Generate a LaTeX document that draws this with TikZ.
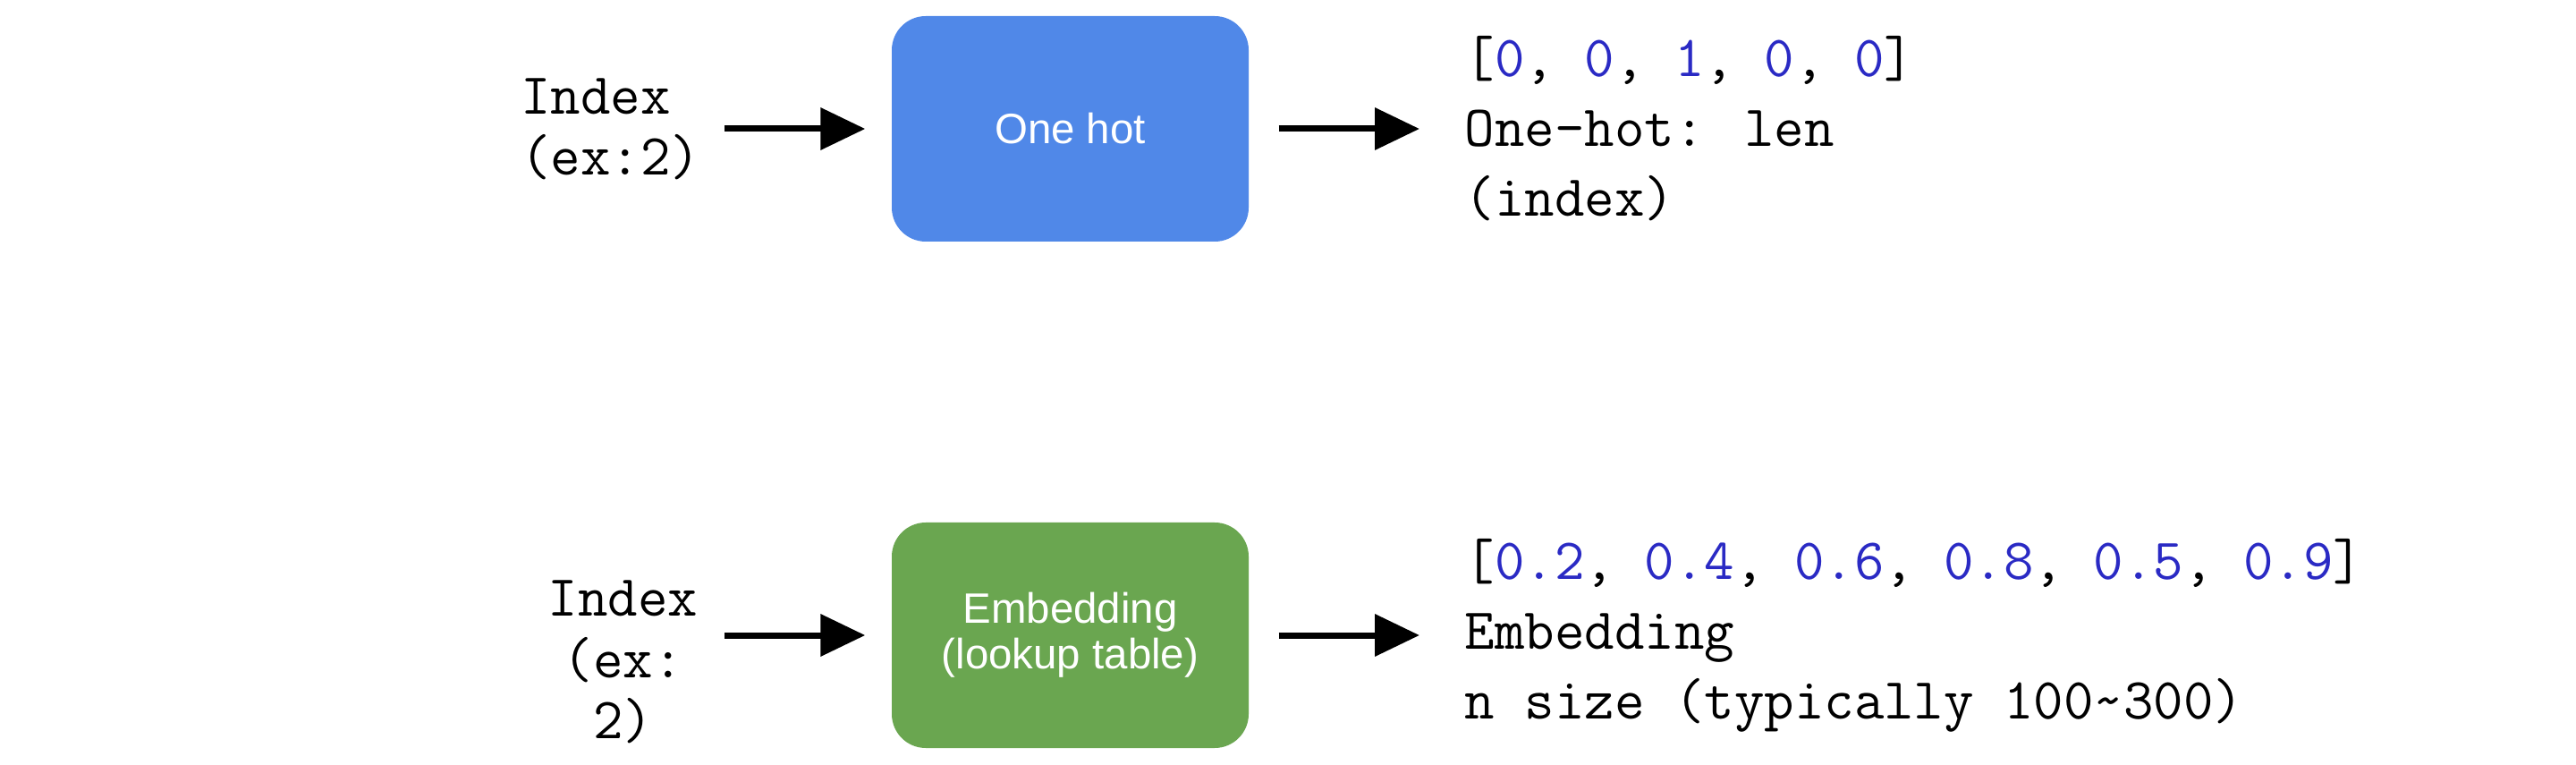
\documentclass[tikz,border=0pt]{standalone}
\usepackage{fontspec}
\setmainfont{Liberation Serif}
\setsansfont{Liberation Sans}
\usetikzlibrary{arrows.meta}

\definecolor{boxblue}{RGB}{80,136,232}
\definecolor{boxgreen}{RGB}{106,166,80}
\definecolor{numblue}{RGB}{42,42,196}
\newcommand{\vnum}[1]{\textcolor{numblue}{#1}}

\begin{document}
\begin{tikzpicture}[
    block/.style={rounded corners=0.38cm, minimum width=3.99cm, minimum height=2.52cm,
        text=white, font=\sffamily\fontsize{13.5}{14.5}\selectfont, align=center, inner sep=0pt},
    code/.style={font=\ttfamily\fontsize{18.5}{22.2}\selectfont, align=left, anchor=west, inner sep=0pt},
    idx/.style={font=\ttfamily\fontsize{18.5}{19.4}\selectfont, anchor=east, inner sep=0pt},
    flow/.style={-{Triangle[length=0.5cm,width=0.46cm]}, line width=0.07cm}
]
    \useasboundingbox (0,0) rectangle (28.8,8.54);

    % One-hot row
    \node[block, fill=boxblue] (onehot) at (11.965,7.10) {One hot};
    \node[idx, align=left] (idxA) at (7.84,7.10) {Index\\(ex:2)};
    \node[code] (vecA) at (16.37,7.10)
        {[\vnum{0}, \vnum{0}, \vnum{1}, \vnum{0}, \vnum{0}]\\One-hot: len\\(index)};
    \draw[flow, shorten <=0.26cm, shorten >=0.29cm] (idxA.east) -- (onehot.west);
    \draw[flow, shorten <=0.33cm, shorten >=0.50cm] (onehot.east) -- (vecA.west);

    % Embedding row
    \node[block, fill=boxgreen] (embed) at (11.965,1.44) {Embedding\\(lookup table)};
    \node[idx, align=center] (idxB) at (7.81,1.14) {Index\\(ex:\\2)};
    \node[code] (vecB) at (16.37,1.44)
        {[\vnum{0.2}, \vnum{0.4}, \vnum{0.6}, \vnum{0.8}, \vnum{0.5}, \vnum{0.9}]\\Embedding\\n size (typically 100\textasciitilde300)};
    \draw[flow, shorten <=0.29cm, shorten >=0.29cm] (idxB.east |- embed.west) -- (embed.west);
    \draw[flow, shorten <=0.33cm, shorten >=0.50cm] (embed.east) -- (vecB.west);
\end{tikzpicture}
\end{document}
